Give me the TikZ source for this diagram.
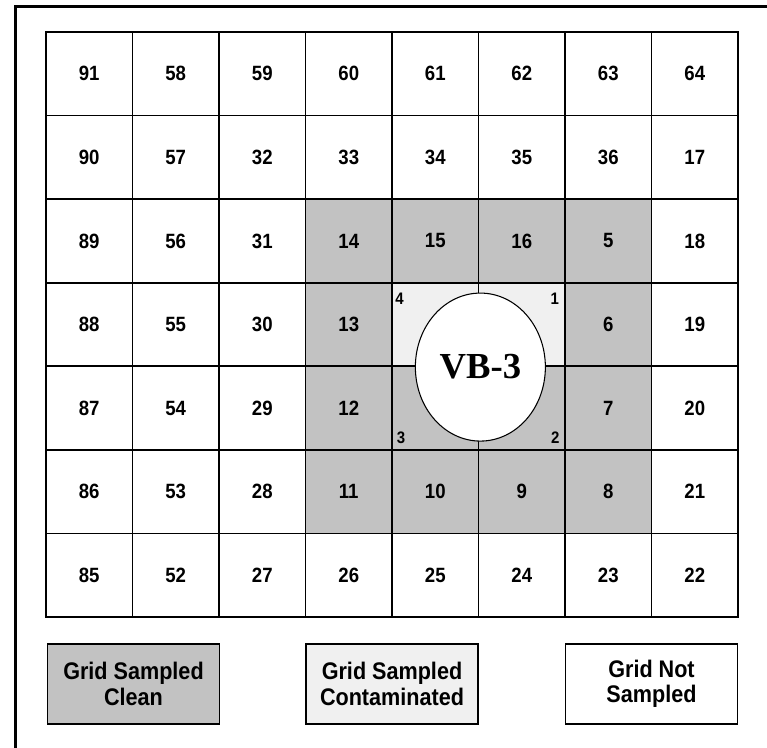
\documentclass[tikz,border=0pt]{standalone}
\usepackage{fontspec}
\setmainfont{Liberation Sans}
\newfontfamily\cellfont[FakeStretch=0.9]{Liberation Sans}
\newfontfamily\vbfont{Liberation Serif}
\usetikzlibrary{shapes.geometric,backgrounds}
\definecolor{clean}{gray}{0.76}
\definecolor{contam}{gray}{0.94}

\tikzset{
  cell/.style={draw, line width=1.2pt, minimum width=64.875pt, minimum height=62.68pt,
    inner sep=0pt, font=\cellfont\bfseries\fontsize{15.5}{16}\selectfont},
  corner/.style={inner sep=0pt, font=\cellfont\bfseries\fontsize{12.5}{13}\selectfont},
  legendbox/.style={draw, line width=1.3pt, minimum width=129pt, minimum height=60pt,
    align=center, inner sep=0pt, font=\cellfont\bfseries\fontsize{18}{19}\selectfont}
}

\begin{document}
\begin{tikzpicture}[x=0.75pt,y=-0.75pt]
\useasboundingbox (0,0) rectangle (767,748);
% frame
\draw[line width=2.6pt] (15.5,748) -- (15.5,6.5) -- (767,6.5);
% grid
\foreach \row [count=\r] in {{91,58,59,60,61,62,63,64},{90,57,32,33,34,35,36,17},
    {89,56,31,14,15,16,5,18},{88,55,30,13,{},{},6,19},{87,54,29,12,{},{},7,20},
    {86,53,28,11,10,9,8,21},{85,52,27,26,25,24,23,22}}
  \foreach \num [count=\c] in \row
    \node[cell] (c-\r-\c) at ({46+86.5*(\c-0.5)},{32+83.57*(\r-0.5)}) {\num};
\begin{scope}[on background layer]
  \foreach \r/\c in {3/4,3/5,3/6,3/7,4/4,4/7,5/4,5/5,5/6,5/7,6/4,6/5,6/6,6/7}
    \fill[clean] (c-\r-\c.south west) rectangle (c-\r-\c.north east);
  \foreach \c in {5,6}
    \fill[contam] (c-4-\c.south west) rectangle (c-4-\c.north east);
\end{scope}
% boring location
\node[ellipse, draw, line width=0.8pt, fill=white, minimum width=97.5pt, minimum height=111pt,
  inner sep=0pt, font=\vbfont\bfseries\fontsize{27.5}{30}\selectfont]
  (vb) at ([xshift=2pt]c-4-6.south west) {VB-3};
\node[corner, anchor=north west] (k4) at ([shift={(3pt,-8.5pt)}]c-4-5.north west) {4};
\node[corner, anchor=north east] (k1) at ([shift={(-5pt,-8.5pt)}]c-4-6.north east) {1};
\node[corner, anchor=south west] (k3) at ([shift={(4pt,5pt)}]c-5-5.south west) {3};
\node[corner, anchor=south east] (k2) at ([shift={(-4.5pt,5pt)}]c-5-6.south east) {2};
% legend
\node[legendbox, fill=clean] (lg1) at (133.5,684) {Grid Sampled\\Clean};
\node[legendbox, fill=contam] (lg2) at (392,684) {Grid Sampled\\Contaminated};
\node[legendbox] (lg3) at (651.5,684) {Grid Not\\Sampled};
\end{tikzpicture}
\end{document}
